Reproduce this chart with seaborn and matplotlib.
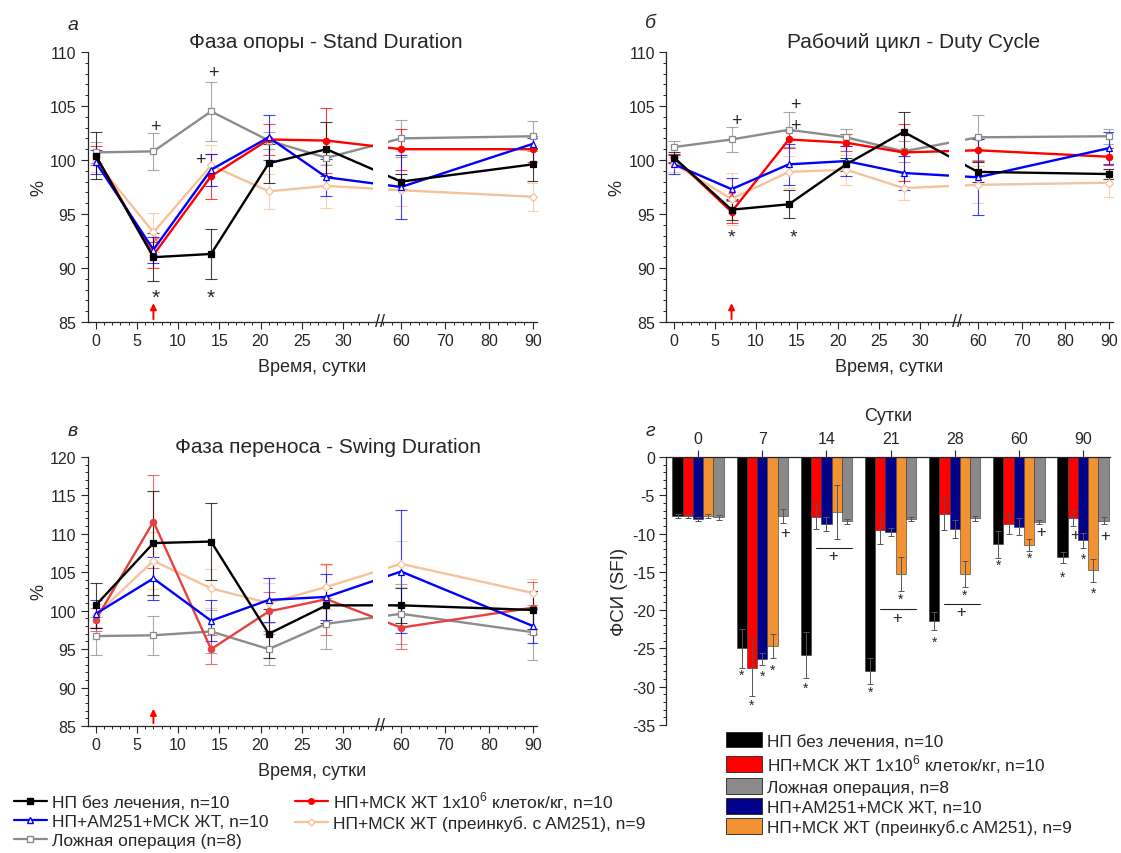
import numpy as np
import pandas as pd
import matplotlib
matplotlib.use("Agg")
import matplotlib.pyplot as plt
from matplotlib.lines import Line2D
from matplotlib.patches import Patch
import seaborn as sns

# ---- data ----
days = [0, 7, 14, 21, 28, 60, 90]
day_labels = ["0", "7", "14", "21", "28", "60", "90"]

lbl_black = "НП без лечения, n=10"
lbl_red = "НП+МСК ЖТ 1x10$^6$ клеток/кг, n=10"
lbl_blue = "НП+AM251+МСК ЖТ, n=10"
lbl_peach = "НП+МСК ЖТ (преинкуб. с AM251), n=9"
lbl_gray = "Ложная операция (n=8)"

# a: stand duration, %
stand_black = [100.4, 91.0, 91.3, 99.7, 101.0, 98.0, 99.6]
stand_black_err = [2.2, 2.2, 2.3, 1.8, 2.5, 0.7, 1.5]
stand_red = [100.4, 91.2, 98.5, 101.9, 101.8, 101.0, 101.0]
stand_red_err = [0.9, 1.2, 2.1, 1.4, 3.0, 1.9, 1.2]
stand_blue = [99.8, 91.7, 99.1, 102.1, 98.4, 97.5, 101.5]
stand_blue_err = [1.1, 1.2, 1.5, 2.1, 1.7, 3.0, 0.5]
stand_peach = [99.9, 93.3, 99.5, 97.1, 97.6, 97.2, 96.6]
stand_peach_err = [1.0, 1.8, 1.9, 1.6, 2.0, 1.5, 1.3]
stand_gray = [100.7, 100.8, 104.5, 101.8, 100.2, 102.0, 102.2]
stand_gray_err = [1.0, 1.7, 2.7, 0.8, 0.7, 1.7, 1.4]

# б: duty cycle, %
duty_black = [100.2, 95.4, 95.9, 99.6, 102.6, 98.9, 98.7]
duty_black_err = [0.5, 1.0, 1.3, 0.6, 1.8, 0.9, 0.5]
duty_red = [100.2, 95.2, 101.9, 101.6, 100.7, 100.9, 100.3]
duty_red_err = [0.4, 1.0, 0.8, 0.8, 2.6, 1.0, 0.8]
duty_blue = [99.6, 97.3, 99.6, 99.9, 98.8, 98.4, 101.1]
duty_blue_err = [0.9, 1.0, 1.9, 1.4, 1.6, 3.5, 1.5]
duty_peach = [99.6, 96.4, 98.9, 99.1, 97.4, 97.7, 97.9]
duty_peach_err = [0.7, 2.4, 1.5, 1.4, 1.1, 1.7, 1.3]
duty_gray = [101.2, 101.9, 102.8, 102.1, 100.8, 102.1, 102.2]
duty_gray_err = [0.6, 1.2, 1.6, 0.8, 1.0, 2.1, 0.7]

# в: swing duration, %
swing_black = [100.7, 108.8, 109.0, 97.0, 100.7, 100.7, 100.1]
swing_black_err = [2.9, 6.8, 5.0, 3.2, 2.3, 2.3, 2.5]
swing_red = [98.8, 111.6, 95.0, 99.9, 101.5, 97.8, 100.4]
swing_red_err = [1.5, 6.1, 1.9, 2.6, 4.6, 2.8, 3.4]
swing_blue = [99.6, 104.2, 98.7, 101.4, 101.8, 105.1, 98.0]
swing_blue_err = [1.8, 2.8, 2.7, 2.9, 3.0, 8.0, 2.2]
swing_peach = [99.4, 106.5, 102.9, 101.0, 103.1, 106.1, 102.3]
swing_peach_err = [1.5, 3.7, 2.5, 2.6, 2.9, 3.0, 1.8]
swing_gray = [96.7, 96.8, 97.3, 95.0, 98.3, 99.6, 97.2]
swing_gray_err = [2.5, 2.5, 2.8, 2.0, 3.3, 3.9, 3.6]

# г: SFI bars
sfi_groups = ["НП без лечения, n=10", "НП+МСК ЖТ 1x10$^6$ клеток/кг, n=10",
              "НП+AM251+МСК ЖТ, n=10", "НП+МСК ЖТ (преинкуб.с AM251), n=9",
              "Ложная операция, n=8"]
sfi_black = [-7.7, -25.0, -25.8, -28.0, -21.4, -11.4, -13.1]
sfi_black_err = [0.3, 2.5, 3.0, 1.7, 1.2, 1.8, 0.7]
sfi_red = [-7.7, -27.5, -7.8, -9.5, -7.5, -8.7, -8.0]
sfi_red_err = [0.3, 3.7, 1.6, 1.9, 2.0, 1.4, 1.0]
sfi_blue = [-8.1, -26.4, -8.7, -9.8, -9.4, -9.1, -10.9]
sfi_blue_err = [0.2, 0.8, 0.9, 0.5, 1.2, 1.1, 1.0]
sfi_orange = [-7.7, -24.7, -7.2, -15.3, -15.3, -11.5, -14.8]
sfi_orange_err = [0.3, 1.6, 3.5, 2.2, 1.7, 0.8, 1.5]
sfi_gray = [-7.9, -7.7, -8.4, -8.1, -8.0, -8.5, -8.3]
sfi_gray_err = [0.3, 0.9, 0.3, 0.2, 0.3, 0.3, 0.4]

# ---- style ----
sns.set_style("ticks")
plt.rcParams["font.family"] = ["Liberation Sans", "DejaVu Sans"]
plt.rcParams["mathtext.fontset"] = "custom"
plt.rcParams["mathtext.rm"] = "Liberation Sans"
plt.rcParams["axes.unicode_minus"] = False

styles = {
    "gray": dict(color="#8C8C8C", marker="s", mfc="white", ms=4.5, label=lbl_gray),
    "peach": dict(color="#F6C29A", marker="D", mfc="white", ms=4.0, label=lbl_peach),
    "red": dict(color="#FF0000", marker="o", mfc="#FF0000", ms=4.5, label=lbl_red),
    "blue": dict(color="#0000FF", marker="^", mfc="white", ms=5.0, label=lbl_blue),
    "black": dict(color="#000000", marker="s", mfc="#000000", ms=4.5, label=lbl_black),
}

# broken x axis: 0..34.5 then 55.3..90 compressed
BRK_L, BRK_R, K = 34.5, 55.3, 0.534
xp = [-50, BRK_L, BRK_R, 200]
fp = [-50, BRK_L, BRK_L + 0.05, BRK_L + 0.05 + (200 - BRK_R) * K]


def fwd(x):
    return np.interp(x, xp, fp)


def inv(y):
    return np.interp(y, fp, xp)


fig = plt.figure(figsize=(11.21, 8.54), dpi=100)
W, H = 1121, 854


def px_axes(l, t, r, b):
    return fig.add_axes([l / W, 1 - b / H, (r - l) / W, (b - t) / H])


def line_panel(ax, series, ylim, title, title_x, arrow_top, red=None):
    for key in ["gray", "peach", "red", "blue", "black"]:
        vals, errs = series[key]
        st = styles[key]
        c = red if (key == "red" and red) else st["color"]
        mfc = c if st["mfc"] != "white" else "white"
        ax.errorbar(days, vals, yerr=errs, fmt="none", ecolor=c, elinewidth=0.8,
                    capsize=4.5, capthick=0.8, alpha=0.75, zorder=1.5)
        sns.lineplot(x=days, y=vals, ax=ax, color=c, marker=st["marker"],
                     markersize=st["ms"], markerfacecolor=mfc, markeredgecolor=c,
                     markeredgewidth=0.9, linewidth=1.7, zorder=2)
    ax.set_xscale("function", functions=(fwd, inv))
    ax.set_xlim(-1, 90.9)
    ax.set_ylim(*ylim)
    ax.set_xticks([0, 5, 10, 15, 20, 25, 30, 60, 70, 80, 90])
    minor = [v for v in range(1, 35) if v % 5] + [v for v in range(56, 91, 2) if v % 10]
    ax.set_xticks(minor, minor=True)
    ax.set_yticks(np.arange(ylim[0], ylim[1] + 1, 5))
    ax.set_yticks(np.arange(ylim[0], ylim[1] + 0.5, 1), minor=True)
    ax.tick_params(which="major", length=5, width=0.8, labelsize=11.5, pad=3)
    ax.tick_params(which="minor", length=2.5, width=0.7)
    sns.despine(ax=ax)
    for s in ["left", "bottom"]:
        ax.spines[s].set_linewidth(0.9)
    ax.set_xlabel("Время, сутки", fontsize=13, labelpad=7)
    ax.set_ylabel("%", fontsize=13, labelpad=2)
    # gap in lines at the axis break
    ax.axvspan(33.6, 57.0, ymin=0.015, ymax=1, color="white", zorder=3, lw=0)
    ax.text(BRK_L, 0, "//", transform=ax.get_xaxis_transform(), ha="center", va="center",
            fontsize=13, zorder=4)
    ax.text(title_x, 1.04, title, transform=ax.transAxes, ha="center", va="center", fontsize=15)
    ax.annotate("", xy=(7, arrow_top), xytext=(7, ylim[0]),
                arrowprops=dict(arrowstyle="-|>", color="red", lw=1.4, mutation_scale=9))


# a
ax1 = px_axes(87.5, 53, 537, 323)
line_panel(ax1, {"black": (stand_black, stand_black_err), "red": (stand_red, stand_red_err),
                 "blue": (stand_blue, stand_blue_err), "peach": (stand_peach, stand_peach_err),
                 "gray": (stand_gray, stand_gray_err)},
           (85, 110), "Фаза опоры - Stand Duration", 0.53, 87.0)
for x, y, s in [(7.2, 103.1, "+"), (14.3, 108.1, "+"), (12.7, 100.0, "+")]:
    ax1.text(x, y, s, ha="center", va="center", fontsize=13, zorder=5)
for x, y in [(7.3, 87.3), (14.0, 87.3)]:
    ax1.text(x, y, "*", ha="center", va="center", fontsize=15, zorder=5)
ax1.text(7.2, 92.3, "*", ha="center", va="center", fontsize=14, color="red", alpha=0.7, zorder=5)

# б
ax2 = px_axes(666, 53, 1113, 323)
line_panel(ax2, {"black": (duty_black, duty_black_err), "red": (duty_red, duty_red_err),
                 "blue": (duty_blue, duty_blue_err), "peach": (duty_peach, duty_peach_err),
                 "gray": (duty_gray, duty_gray_err)},
           (85, 110), "Рабочий цикл - Duty Cycle", 0.553, 87.0)
for x, y, s in [(7.6, 103.7, "+"), (14.8, 105.1, "+"), (14.8, 103.2, "+")]:
    ax2.text(x, y, s, ha="center", va="center", fontsize=13, zorder=5)
for x, y in [(7.0, 92.9), (14.5, 92.9)]:
    ax2.text(x, y, "*", ha="center", va="center", fontsize=14, zorder=5)
ax2.text(7.0, 96.5, "*", ha="center", va="center", fontsize=14, color="red", alpha=0.7, zorder=5)

# в
ax3 = px_axes(87.5, 458, 537, 727)
line_panel(ax3, {"black": (swing_black, swing_black_err), "red": (swing_red, swing_red_err),
                 "blue": (swing_blue, swing_blue_err), "peach": (swing_peach, swing_peach_err),
                 "gray": (swing_gray, swing_gray_err)},
           (85, 120), "Фаза переноса - Swing Duration", 0.535, 87.6, red="#E84040")

# panel letters
for x, y, s in [(73, 25, "а"), (651, 23, "б"), (73, 432, "в"), (650, 432, "г")]:
    fig.text(x / W, 1 - y / H, s, fontsize=14, style="italic", ha="center", va="center")

# line legend
h_order = ["black", "blue", "gray", "red", "peach"]
handles = [Line2D([], [], color=styles[k]["color"], marker=styles[k]["marker"], lw=1.6,
                  ms=styles[k]["ms"] - 0.5, mfc=styles[k]["mfc"], mec=styles[k]["color"])
           for k in h_order]
fig.legend(handles, [styles[k]["label"] for k in h_order], ncol=2, loc="upper left",
           bbox_to_anchor=(14 / W, 1 - 790 / H), frameon=False, fontsize=12.5,
           handlelength=1.9, handletextpad=0.3, columnspacing=1.5, labelspacing=0.22,
           borderaxespad=0, borderpad=0)

# г: bars
bar_colors = ["#000000", "#FF0000", "#00008B", "#F29233", "#8A8A8A"]
bar_vals = [sfi_black, sfi_red, sfi_blue, sfi_orange, sfi_gray]
bar_errs = [sfi_black_err, sfi_red_err, sfi_blue_err, sfi_orange_err, sfi_gray_err]
hue_names = [sfi_groups[0], sfi_groups[1], sfi_groups[2], sfi_groups[3], sfi_groups[4]]
df = pd.DataFrame({
    "day": np.tile(day_labels, 5),
    "sfi": np.concatenate(bar_vals),
    "group": np.repeat(hue_names, len(day_labels)),
})
ax4 = px_axes(666, 458, 1110, 726)
sns.barplot(data=df, x="day", y="sfi", hue="group", order=day_labels, hue_order=hue_names,
            palette=dict(zip(hue_names, bar_colors)), errorbar=None, width=0.8, saturation=1,
            edgecolor="#333333", linewidth=0.4, legend=False, ax=ax4)
for cont, errs in zip(ax4.containers, bar_errs):
    xs = [b.get_x() + b.get_width() / 2 for b in cont]
    ys = [b.get_y() + b.get_height() for b in cont]
    ax4.errorbar(xs, ys, yerr=errs, fmt="none", ecolor="#555555", elinewidth=0.7,
                 capsize=2, capthick=0.7, zorder=3)


def bar_x(g, h):
    b = ax4.containers[h][g]
    return b.get_x() + b.get_width() / 2


stars = [(1, 0, -28.5), (1, 1, -32.3), (1, 2, -28.6), (1, 3, -27.8), (2, 0, -30.2),
         (3, 0, -30.7), (3, 3, -18.5), (4, 0, -24.1), (4, 3, -18.0), (5, 0, -14.1),
         (5, 3, -13.2), (6, 0, -15.7), (6, 2, -13.3), (6, 3, -17.7)]
for g, h, y in stars:
    ax4.text(bar_x(g, h), y, "*", ha="center", va="center", fontsize=10)
pluses = [(1, 4, -9.9), (5, 4, -9.7), (6, 1, -10.1), (6, 4, -10.2)]
for g, h, y in pluses:
    ax4.text(bar_x(g, h) + 0.03, y, "+", ha="center", va="center", fontsize=12)
for g, yl, yp in [(2, -11.9, -12.9), (3, -19.9, -21.0), (4, -19.2, -20.2)]:
    x0 = bar_x(g, 1)
    x1 = bar_x(g, 4) + 0.08
    ax4.plot([x0, x1], [yl, yl], color="#222222", lw=0.8)
    ax4.text((x0 + x1) / 2 - 0.02, yp, "+", ha="center", va="center", fontsize=12)

ax4.set_xlim(-0.5, 6.42)
ax4.set_ylim(-35, 0)
ax4.xaxis.tick_top()
ax4.xaxis.set_label_position("top")
ax4.set_xlabel("Сутки", fontsize=13, labelpad=8)
ax4.set_ylabel("ФСИ (SFI)", fontsize=13.5, labelpad=3)
ax4.set_yticks(np.arange(-35, 1, 5))
ax4.set_yticks(np.arange(-35, 0.5, 1), minor=True)
ax4.tick_params(which="major", length=5, width=0.8, labelsize=11.5, pad=3)
ax4.tick_params(which="minor", length=2.5, width=0.7)
ax4.tick_params(axis="x", which="minor", top=False, bottom=False)
for s in ["right", "bottom"]:
    ax4.spines[s].set_visible(False)
for s in ["left", "top"]:
    ax4.spines[s].set_linewidth(0.9)

bar_handles = [Patch(facecolor=c, edgecolor="#222222", lw=0.6) for c in
               [bar_colors[0], bar_colors[1], bar_colors[4], bar_colors[2], bar_colors[3]]]
bar_labels = [sfi_groups[0], sfi_groups[1], sfi_groups[4], sfi_groups[2], sfi_groups[3]]
fig.legend(bar_handles, bar_labels, loc="upper left", bbox_to_anchor=(726 / W, 1 - 733 / H),
           frameon=False, fontsize=12.4, handlelength=2.1, handleheight=1.0,
           handletextpad=0.3, labelspacing=0.2, borderaxespad=0, borderpad=0)

fig.savefig("out.png", dpi=100)
